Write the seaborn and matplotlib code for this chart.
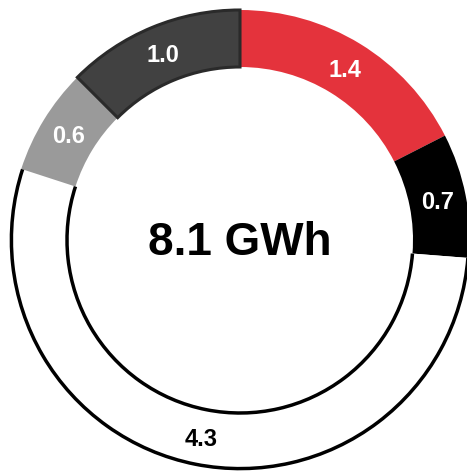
import matplotlib
matplotlib.use("Agg")
import matplotlib.pyplot as plt
from matplotlib.patches import Arc
import numpy as np
import seaborn as sns

sns.set_theme(style="white")
plt.rcParams["font.family"] = ["Liberation Sans", "DejaVu Sans"]

# Energy by source (GWh), drawn clockwise from 12 o'clock
labels = ["1.4", "0.7", "4.3", "0.6", "1.0"]
values = [1.4, 0.7, 4.3, 0.6, 1.0]
colors = ["#E4333C", "#000000", "#FFFFFF", "#9A9A9A", "#414141"]
label_colors = ["white", "white", "black", "white", "white"]
total_label = "8.1 GWh"

R_OUT = 230
RING = 57

fig = plt.figure(figsize=(4.67, 4.71), dpi=100)
ax = fig.add_axes([0, 0, 1, 1])

wedges, _ = ax.pie(
    values,
    colors=colors,
    startangle=90,
    counterclock=False,
    radius=R_OUT,
    wedgeprops=dict(width=RING, linewidth=0),
)

# dark segment gets its own darker outline
dark = wedges[4]
dark.set_edgecolor("#2A2A2A")
dark.set_linewidth(2.2)

# white segment: only its two arcs are stroked
w = wedges[2]
lw = 2.5
for r in (R_OUT - 1.4, R_OUT - RING):
    ax.add_patch(Arc((0, 0), 2 * r, 2 * r, theta1=w.theta1, theta2=w.theta2,
                     color="black", linewidth=lw, zorder=3))

# value labels at the middle of each ring segment
r_mid = R_OUT - RING / 2
for wd, lab, c in zip(wedges, labels, label_colors):
    ang = np.deg2rad((wd.theta1 + wd.theta2) / 2)
    ax.text(r_mid * np.cos(ang), r_mid * np.sin(ang) - 2, lab, color=c,
            fontsize=17, fontweight="bold", ha="center", va="center", zorder=4)

ax.text(0, -15, total_label, fontsize=33, fontweight="bold", color="black",
        ha="center", va="baseline")

ax.set_xlim(-240, 227)
ax.set_ylim(-231, 240)
ax.set_aspect("auto")
ax.axis("off")

fig.savefig("out.png", dpi=100, facecolor="white")
